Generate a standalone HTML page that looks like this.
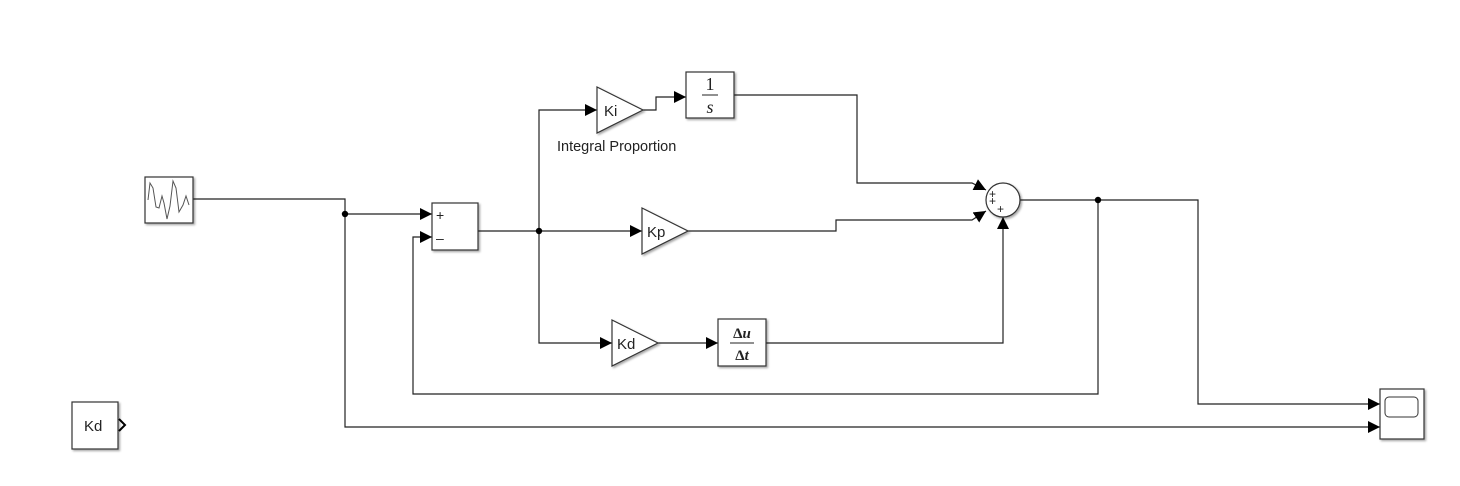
<!DOCTYPE html>
<html><head><meta charset="utf-8"><style>
html,body{margin:0;padding:0;background:#fff;}
svg{display:block;}
text{font-family:"Liberation Sans",sans-serif;fill:#222;}
.s{font-family:"Liberation Serif",serif;}
</style></head><body>
<svg width="1460" height="486" viewBox="0 0 1460 486" xmlns="http://www.w3.org/2000/svg">
<defs>
<marker id="a" viewBox="0 0 10 10" refX="10" refY="5" markerWidth="12" markerHeight="12" markerUnits="userSpaceOnUse" orient="auto"><path d="M0,0 L10,5 L0,10 z" fill="#000"/></marker>
<filter id="sh"><feDropShadow dx="1.5" dy="1.5" stdDeviation="1" flood-color="#000" flood-opacity="0.35"/></filter>
</defs>
<g fill="none" stroke="#222" stroke-width="1.2">
<polyline points="193,199 345,199 345,427 1380,427" marker-end="url(#a)"/>
<polyline points="345,214 432,214" marker-end="url(#a)"/>
<polyline points="478,231 642,231" marker-end="url(#a)"/>
<polyline points="539,231 539,110 597,110" marker-end="url(#a)"/>
<polyline points="643,110 656,110 656,97 686,97" marker-end="url(#a)"/>
<polyline points="734,95 857,95 857,183 972,183 986,190" marker-end="url(#a)"/>
<polyline points="688,231 836,231 836,220 972,220 986,211" marker-end="url(#a)"/>
<polyline points="539,231 539,343 612,343" marker-end="url(#a)"/>
<polyline points="658,343 718,343" marker-end="url(#a)"/>
<polyline points="766,343 1003,343 1003,217" marker-end="url(#a)"/>
<polyline points="1020,200 1198,200 1198,404 1380,404" marker-end="url(#a)"/>
<polyline points="1098,200 1098,394 413,394 413,237 432,237" marker-end="url(#a)"/>
</g>
<g fill="#000">
<circle cx="345" cy="214" r="3.2"/><circle cx="539" cy="231" r="3.2"/><circle cx="1098" cy="200" r="3.2"/>
</g>
<g fill="#fff" stroke="#333" stroke-width="1.2" filter="url(#sh)">
<rect x="145" y="177" width="48" height="46"/>
<rect x="432" y="203" width="46" height="47"/>
<polygon points="597,87 643,110 597,133"/>
<rect x="686" y="72" width="48" height="46"/>
<polygon points="642,208 688,231 642,254"/>
<polygon points="612,320 658,343 612,366"/>
<rect x="718" y="319" width="48" height="47"/>
<circle cx="1003" cy="200" r="17"/>
<rect x="1380" y="389" width="44" height="50"/>
<rect x="72" y="402" width="46" height="47"/>
</g>
<polyline fill="none" stroke="#555" stroke-width="1" points="148,200 150,183 153,188 156,207 159,208 162,196 164,203 167,219 170,206 173,181 176,188 179,212 183,205 186,196 189,205"/>
<rect x="1385" y="397" width="33" height="20" rx="4" fill="#fff" stroke="#333"/>
<polyline points="119,419 125,425 119,431" fill="none" stroke="#000" stroke-width="2"/>
<g font-size="15">
<text x="436" y="220" font-size="14">+</text><text x="436" y="243" font-size="14">–</text>
<text x="604" y="116">Ki</text>
<text x="647" y="237">Kp</text>
<text x="617" y="349">Kd</text>
<text x="84" y="431">Kd</text>
<text x="557" y="151" font-size="14.5">Integral Proportion</text>
<text x="989" y="198" font-size="12">+</text>
<text x="989" y="205" font-size="12">+</text>
<text x="997" y="213" font-size="12">+</text>
</g>
<text class="s" x="710" y="90" font-size="18" text-anchor="middle">1</text>
<line x1="702" y1="95" x2="718" y2="95" stroke="#222"/>
<text class="s" x="710" y="113" font-size="18" font-style="italic" text-anchor="middle">s</text>
<text class="s" x="742" y="338" font-size="15" font-weight="bold" text-anchor="middle">Δ<tspan font-style="italic">u</tspan></text>
<line x1="730" y1="343" x2="754" y2="343" stroke="#222"/>
<text class="s" x="742" y="360" font-size="15" font-weight="bold" text-anchor="middle">Δ<tspan font-style="italic">t</tspan></text>
</svg>
</body></html>
